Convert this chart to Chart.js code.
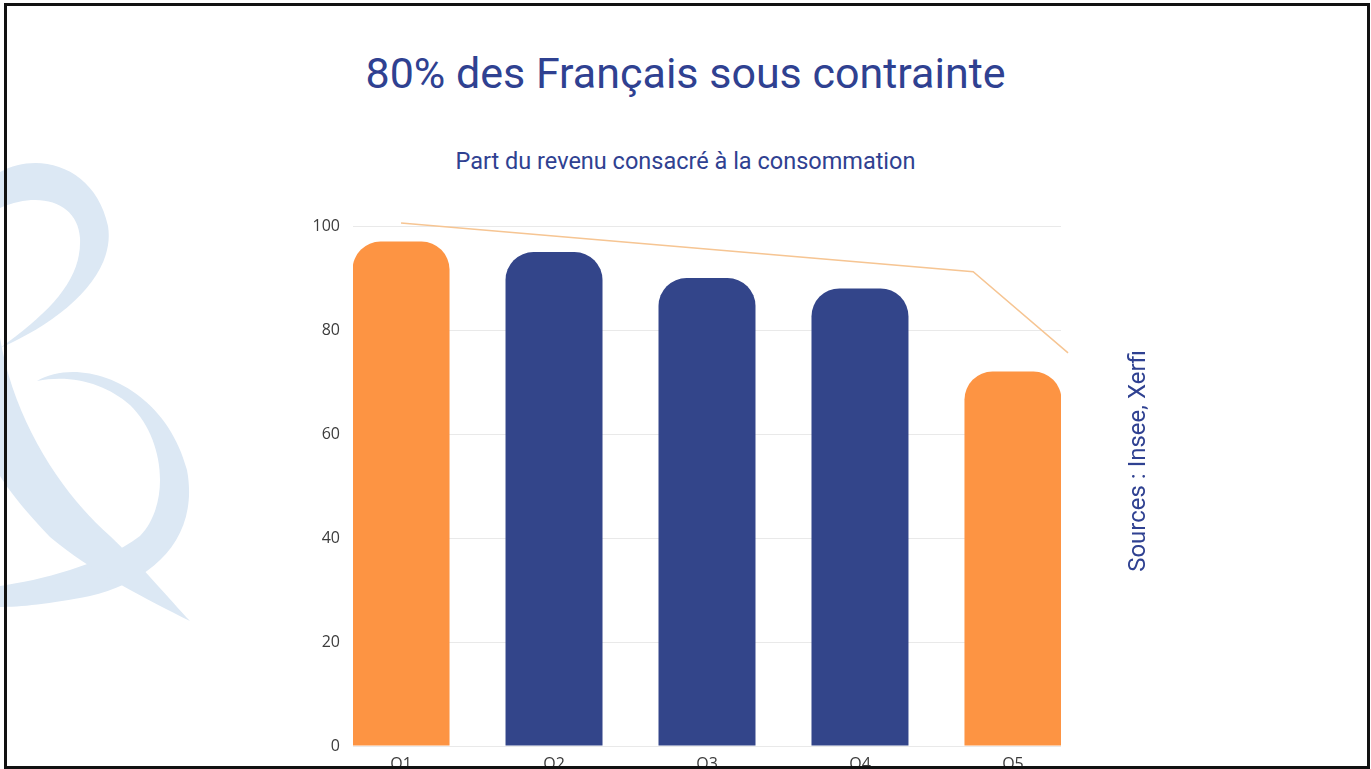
<!DOCTYPE html>
<html lang="fr">
<head>
<meta charset="utf-8">
<title>80% des Français sous contrainte</title>
<script src="https://cdn.jsdelivr.net/npm/chart.js@4"></script>
<style>
  html, body { margin: 0; padding: 0; background: #fff; }
  body { width: 1371px; height: 769px; position: relative; overflow: hidden; font-family: Roboto, sans-serif; }
  #deco { position: absolute; left: 0; top: 0; }
  #chart-box { position: absolute; left: 0; top: 0; width: 1371px; height: 769px; }
  .titre { position: absolute; left: 0; width: 1371px; text-align: center; color: #2f4191; white-space: nowrap; }
  #titre { top: 52px; font-size: 43px; line-height: 43px; }
  #sous-titre { top: 149px; font-size: 23.5px; line-height: 24px; }
  #sources { position: absolute; left: 1137px; top: 461px; transform: translate(-50%, -50%) rotate(-90deg);
             font-size: 24px; line-height: 24px; color: #2f4191; white-space: nowrap; }
  #cadre { position: absolute; left: 4px; top: 3px; width: 1366px; height: 766px; box-sizing: border-box;
           border: 3px solid #111; pointer-events: none; }
</style>
</head>
<body>

<!-- decor en fond (esperluette bleu clair) -->
<svg id="deco" width="220" height="640" viewBox="0 0 220 640">
  <g fill="#dce8f4">
    <path d="M0,172 C40,150 96,168 108,226 C116,276 60,322 0,348 C50,312 82,280 80,238 C78,204 42,190 0,208 Z"/>
    <path d="M37,381 C82,355 165,386 187,470 C200,540 150,582 90,596 C50,604 20,607 0,607 L0,586 C40,580 100,566 140,536 C170,505 166,440 130,405 C106,384 72,374 37,381 Z"/>
    <path d="M0,338 C14,420 60,492 110,536 C142,566 170,600 190,621 C150,601 90,571 50,537 C26,512 10,492 0,476 Z"/>
  </g>
</svg>

<div class="titre" id="titre">80% des Français sous contrainte</div>
<div class="titre" id="sous-titre">Part du revenu consacré à la consommation</div>

<div id="chart-box"><canvas id="partChart"></canvas></div>

<div id="sources">Sources : Insee, Xerfi</div>
<div id="cadre"></div>

<script>
// -------------------------------
// DONNEES
// -------------------------------
const QUINTILES = ["Q1", "Q2", "Q3", "Q4", "Q5"];
const QUINTILE_POS = [1, 2, 3, 4, 5];
const PART_REVENU = [97, 95, 90, 88, 72];

// ligne de tendance (orange clair)
const TENDANCE_X = [1, 4.74, 5.36];
const TENDANCE_Y = [100.6, 91.2, 75.6];

const Y_TICKS = [0, 20, 40, 60, 80, 100];

const ORANGE = "#fd9443";
const NAVY = "#33458a";
const EXTREMES = [0, 4]; // Q1 et Q5 en orange

// -------------------------------
// GRAPHIQUE
// -------------------------------
const ctx = document.getElementById("partChart").getContext("2d");

new Chart(ctx, {
  data: {
    datasets: [
      {
        type: "line",
        data: TENDANCE_X.map((x, i) => ({ x: x, y: TENDANCE_Y[i] })),
        borderColor: "#f6c593",
        borderWidth: 1.5,
        pointRadius: 0,
        tension: 0,
        clip: false
      },
      {
        type: "bar",
        data: QUINTILE_POS.map((x, i) => ({ x: x, y: PART_REVENU[i] })),
        backgroundColor: c => EXTREMES.includes(c.dataIndex) ? ORANGE : NAVY,
        borderRadius: { topLeft: 28, topRight: 28, bottomLeft: 0, bottomRight: 0 },
        borderSkipped: false,
        categoryPercentage: 1,
        barPercentage: 0.634
      }
    ]
  },
  options: {
    responsive: true,
    maintainAspectRatio: false,
    animation: false,
    layout: { padding: { top: 226, right: 310, bottom: 0, left: 0 } },
    scales: {
      x: {
        type: "linear",
        offset: false,
        min: 0.686,
        max: 5.314,
        grid: { display: false, offset: false },
        border: { display: false },
        afterFit: scale => { scale.height = 23; },
        afterBuildTicks: scale => {
          scale.ticks = QUINTILE_POS.map(v => ({ value: v }));
        },
        ticks: {
          padding: 1,
          color: "#3c3c3c",
          font: { family: "'Open Sans'", size: 16 },
          callback: v => QUINTILES[QUINTILE_POS.indexOf(v)]
        }
      },
      y: {
        min: 0,
        max: 100,
        afterFit: scale => { scale.width = 353; },
        afterBuildTicks: scale => {
          scale.ticks = Y_TICKS.map(v => ({ value: v }));
        },
        grid: { color: "#e9e9e9", drawTicks: false },
        border: { display: false },
        ticks: {
          padding: 13,
          color: "#3c3c3c",
          font: { family: "'Open Sans'", size: 16 }
        }
      }
    },
    plugins: {
      legend: { display: false },
      tooltip: { enabled: false }
    }
  }
});
</script>
</body>
</html>
